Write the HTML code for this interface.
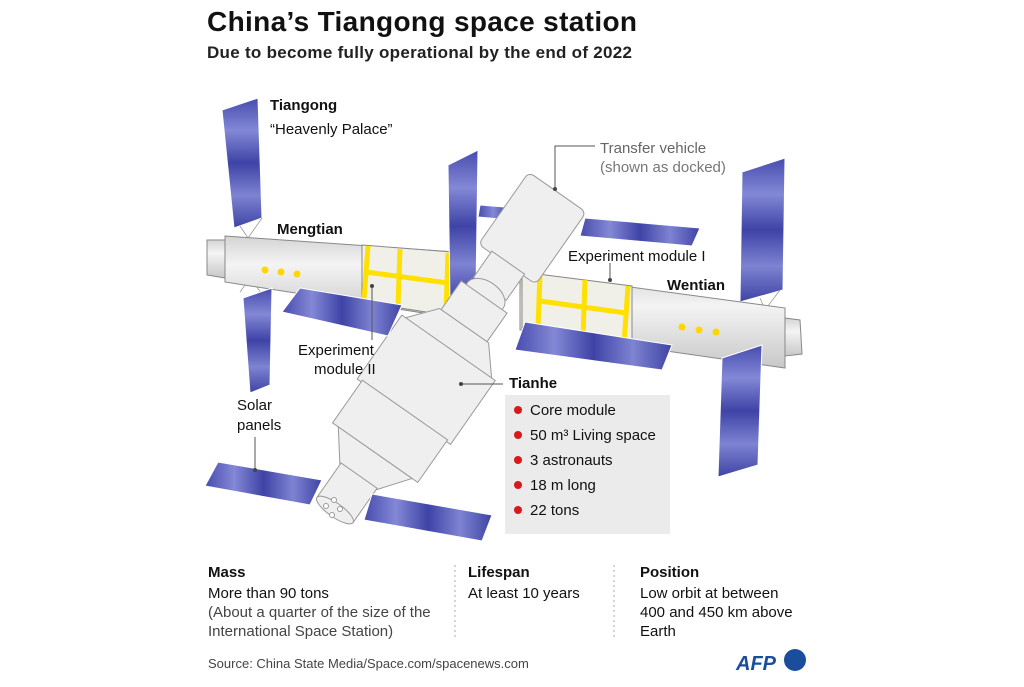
<!DOCTYPE html>
<html><head><meta charset="utf-8"><style>
body{margin:0;background:#fff}
svg text{font-family:"Liberation Sans",sans-serif}
</style></head><body>
<svg width="1024" height="682" viewBox="0 0 1024 682" xmlns="http://www.w3.org/2000/svg">
<defs>
<linearGradient id="sp" x1="0" y1="0" x2="0" y2="1">
<stop offset="0" stop-color="#474cae"/><stop offset="0.25" stop-color="#8388d6"/><stop offset="0.5" stop-color="#3e43a6"/><stop offset="0.75" stop-color="#7e83d2"/><stop offset="1" stop-color="#3e43a4"/></linearGradient>
<linearGradient id="sph" x1="0" y1="0" x2="1" y2="0">
<stop offset="0" stop-color="#474cae"/><stop offset="0.25" stop-color="#8388d6"/><stop offset="0.5" stop-color="#3e43a6"/><stop offset="0.75" stop-color="#7e83d2"/><stop offset="1" stop-color="#3e43a4"/></linearGradient>
<linearGradient id="cyl" x1="0" y1="0" x2="0" y2="1">
<stop offset="0" stop-color="#d4d4d4"/><stop offset="0.35" stop-color="#f4f4f4"/><stop offset="1" stop-color="#c8c8c8"/></linearGradient>
</defs>
<text x="207" y="31" font-size="28" font-weight="bold" fill="#111" textLength="430">China’s Tiangong space station</text>
<text x="207" y="58" font-size="17" font-weight="bold" fill="#222" textLength="425">Due to become fully operational by the end of 2022</text>

<g stroke="#fff" stroke-width="1">
<polygon points="480,205 540,210 535,222 478,217" fill="url(#sph)"/>
<polygon points="585,218 700,228 692,246 580,236" fill="url(#sph)"/>
<polygon points="222,110 258,98 262,218 234,228" fill="url(#sp)"/>
<polygon points="742,172 785,158 783,290 740,302" fill="url(#sp)"/>
</g>
<g stroke="#999" stroke-width="0.8" fill="none">
<path d="M240,226 L248,238 L262,218 M240,292 L250,278 L262,294"/>
<path d="M760,298 L765,310 L780,290 M735,355 L752,338 L760,350"/>
</g>
<g stroke="#888" stroke-width="1">
<polygon points="207,240 225,240 225,278 207,275" fill="url(#cyl)"/>
<polygon points="225,236 455,252 455,318 225,282" fill="url(#cyl)"/>
<polygon points="362,245 452,252 452,316 362,302" fill="#f0f0e8" stroke="#888"/>
</g>
<g stroke="#ffe000" stroke-width="5" fill="none">
<path d="M368,246 L364,300 M400,249 L398,306 M448,253 L446,314 M366,272 L448,283"/>
</g>
<circle cx="265" cy="270" r="3.5" fill="#ffd600"/><circle cx="281" cy="272" r="3.5" fill="#ffd600"/><circle cx="297" cy="274" r="3.5" fill="#ffd600"/>
<g stroke="#888" stroke-width="1">
<polygon points="520,272 785,308 785,368 520,330" fill="url(#cyl)"/>
<polygon points="785,318 800,320 802,354 785,356" fill="url(#cyl)"/>
<polygon points="522,272 632,286 632,344 522,330" fill="#f0f0e8"/>
</g>
<g stroke="#ffe000" stroke-width="5" fill="none">
<path d="M540,274 L538,328 M585,280 L583,336 M628,286 L624,344 M540,301 L626,313"/>
</g>
<circle cx="682" cy="327" r="3.5" fill="#ffd600"/><circle cx="699" cy="330" r="3.5" fill="#ffd600"/><circle cx="716" cy="332" r="3.5" fill="#ffd600"/>
<polygon points="448,165 478,150 476,290 450,302" fill="url(#sp)" stroke="#fff"/>
<g transform="translate(335,510) rotate(-55)" stroke="#999" stroke-width="1" fill="#efefef">
<rect x="300" y="-35" width="88" height="70" rx="6"/>
<rect x="270" y="-20" width="32" height="40"/>
<ellipse cx="262" cy="0" rx="14" ry="22"/>
<rect x="225" y="-28" width="35" height="56"/>
<polygon points="195,-55 225,-30 225,30 195,55"/>
<rect x="120" y="-57" width="78" height="114"/>
<rect x="70" y="-52" width="52" height="104"/>
<polygon points="40,-22 70,-45 70,45 40,22"/>
<rect x="0" y="-22" width="42" height="44"/>
<ellipse cx="0" cy="0" rx="7" ry="22"/>
</g>
<g fill="#fff" stroke="#999"><circle cx="326" cy="506" r="2.5"/><circle cx="334" cy="500" r="2.5"/><circle cx="332" cy="515" r="2.5"/><circle cx="340" cy="509" r="2.5"/></g>
<g stroke="#fff" stroke-width="1">
<polygon points="243,298 272,288 270,385 250,393" fill="url(#sp)"/>
<polygon points="300,288 402,305 388,336 282,312" fill="url(#sph)"/>
<polygon points="525,322 672,345 662,370 515,350" fill="url(#sph)"/>
<polygon points="722,358 762,345 758,465 718,477" fill="url(#sp)"/>
<polygon points="218,462 322,480 310,505 205,486" fill="url(#sph)"/>
<polygon points="372,494 492,515 482,541 364,520" fill="url(#sph)"/>
</g>
<g fill="#111" font-size="15">
<text x="270" y="110" font-weight="bold">Tiangong</text>
<text x="270" y="134">“Heavenly Palace”</text>
<text x="600" y="153" fill="#666">Transfer vehicle</text>
<text x="600" y="172" fill="#777">(shown as docked)</text>
<text x="277" y="234" font-weight="bold">Mengtian</text>
<text x="568" y="261">Experiment  module I</text>
<text x="667" y="290" font-weight="bold">Wentian</text>
<text x="298" y="355">Experiment</text>
<text x="314" y="374">module II</text>
<text x="509" y="388" font-weight="bold">Tianhe</text>
<text x="237" y="410">Solar</text>
<text x="237" y="430">panels</text>
</g>
<g stroke="#555" fill="none" stroke-width="1">
<path d="M555,188 L555,146 L595,146"/><path d="M610,263 L610,280"/>
<path d="M372,286 L372,340"/><path d="M462,384 L503,384"/><path d="M255,470 L255,437"/>
</g>
<g fill="#444"><circle cx="555" cy="189" r="2"/><circle cx="610" cy="280" r="2"/><circle cx="372" cy="286" r="2"/><circle cx="461" cy="384" r="2"/><circle cx="255" cy="470" r="2"/></g>
<rect x="505" y="395" width="165" height="139" fill="#ebebeb"/>
<g fill="#d7191c"><circle cx="518" cy="410" r="4"/><circle cx="518" cy="435" r="4"/><circle cx="518" cy="460" r="4"/><circle cx="518" cy="485" r="4"/><circle cx="518" cy="510" r="4"/></g>
<g fill="#111" font-size="15">
<text x="530" y="415">Core module</text>
<text x="530" y="440">50 m³ Living space</text>
<text x="530" y="465">3 astronauts</text>
<text x="530" y="490">18 m long</text>
<text x="530" y="515">22 tons</text>
</g>
<g stroke="#aaa" stroke-dasharray="2,3"><line x1="455" y1="565" x2="455" y2="640"/><line x1="614" y1="565" x2="614" y2="640"/></g>
<g fill="#111" font-size="15">
<text x="208" y="577" font-weight="bold">Mass</text>
<text x="208" y="598">More than 90 tons</text>
<text x="208" y="617" fill="#444">(About a quarter of the size of the</text>
<text x="208" y="636" fill="#444">International Space Station)</text>
<text x="468" y="577" font-weight="bold">Lifespan</text>
<text x="468" y="598">At least 10 years</text>
<text x="640" y="577" font-weight="bold">Position</text>
<text x="640" y="598">Low orbit at between</text>
<text x="640" y="617">400 and 450 km above</text>
<text x="640" y="636">Earth</text>
<text x="208" y="668" font-size="13" fill="#444">Source: China State Media/Space.com/spacenews.com</text>
</g>
<text x="736" y="670" font-size="20" font-weight="bold" font-style="italic" fill="#1a4e9c">AFP</text>
<circle cx="795" cy="660" r="11" fill="#1a4e9c"/>
</svg>
</body></html>
